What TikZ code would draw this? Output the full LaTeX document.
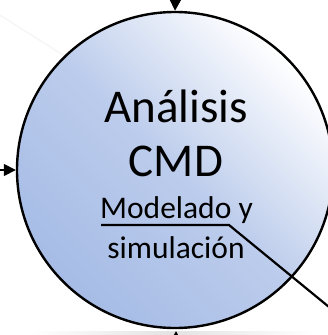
\documentclass[tikz,border=0pt]{standalone}
\usepackage{fontspec}
\setmainfont{Carlito}
\usetikzlibrary{arrows.meta}
\definecolor{cblue}{HTML}{A6BCE6}
\definecolor{cmid}{HTML}{BCCCEC}
\tikzset{
  bubble/.style={circle, draw=black, line width=2.4pt, minimum size=316pt, inner sep=0pt,
    top color=white, bottom color=cblue, middle color=cmid, shading angle=-45},
  big/.style={font=\fontsize{47}{56}\selectfont, inner sep=0pt, anchor=base},
  small/.style={font=\fontsize{31.5}{38}\selectfont, inner sep=0pt, anchor=base},
  flow/.style={line width=1.6pt, -{Triangle[length=12pt,width=12pt]}},
  lead/.style={line width=2.2pt},
}
\begin{document}
\begin{tikzpicture}[x=1pt,y=-1pt]
\useasboundingbox (0,0) rectangle (328,335);
\clip (0,0) rectangle (328,335);
% faint background line
\coordinate (f1) at (-5,12);
\coordinate (f2) at (90,72);
\draw[gray!7, line width=1.5pt] (f1) -- (f2);
% bottom shadow
\shade[left color=white, right color=white, middle color=gray!22] (30,331) rectangle (315,340);
% circle
\node[bubble] (c) at (175,170) {};
% arrows
\coordinate (ta) at (176,-20);
\coordinate (la) at (-20,170);
\coordinate (ba) at (176,360);
\coordinate (bt) at (176,331);
\draw[flow] (ta) -- (c.north);
\draw[flow] (la) -- (c.west);
\draw[flow] (ba) -- (bt);
% texts
\node[big] (t1) at (176,122) {Análisis};
\node[big] (t2) at (176,176) {CMD};
\node[small] (t3) at (176.5,218) {Modelado y};
\node[small] (t4) at (176,258) {simulación};
% underline / leader
\coordinate (u1) at (101,225);
\coordinate (u2) at (229,225);
\coordinate (u3) at (340,316);
\draw[lead] (u1) -- (u2) -- (u3);
\end{tikzpicture}
\end{document}
